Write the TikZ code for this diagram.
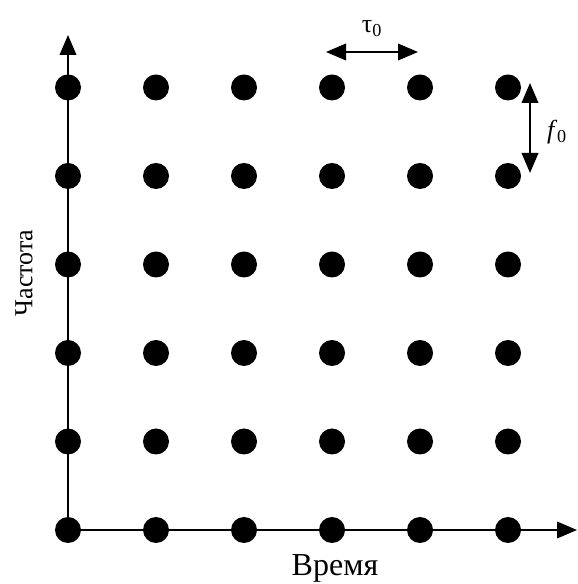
\documentclass[tikz,border=0pt]{standalone}
\usepackage{fontspec}
\setmainfont{Liberation Serif}
\usetikzlibrary{arrows.meta}
\begin{document}
\begin{tikzpicture}[x=0.75pt, y=0.75pt, line width=1.2pt,
  dot/.style={circle, fill=black, inner sep=0pt, minimum size=19.5pt},
  tip/.style={-{Triangle[length=15pt, width=12.5pt]}},
  twotip/.style={{Triangle[length=15pt, width=12.5pt]}-{Triangle[length=15pt, width=12.5pt]}},
  lbl/.style={font=\fontsize{19.5}{22}\selectfont}]
  \useasboundingbox (0,0) rectangle (577,584);
  % концы осей
  \coordinate (t-end) at (577,54);
  \coordinate (f-end) at (68,549);
  % оси
  \draw[tip] (68,54) coordinate (o) -- (t-end);
  \draw[tip] (o) -- (f-end);
  % узлы решётки
  \foreach \i in {0,...,5}
    \foreach \j in {0,...,5}
      \node[dot] (d-\i-\j) at ({68+88*\i},{54+88.5*\j}) {};
  % шаг по времени
  \coordinate (tau-a) at (326,532);
  \coordinate (tau-b) at (418,532);
  \draw[twotip] (tau-a) -- (tau-b);
  \node[lbl] (tau) at (372,555) {τ\textsubscript{0}};
  % шаг по частоте
  \coordinate (f-a) at (530,501);
  \coordinate (f-b) at (530,411);
  \draw[twotip] (f-a) -- (f-b);
  \node[lbl] (f0) at (557,452) {\textit{f}\textsubscript{0}};
  % подписи осей
  \node[lbl, font=\fontsize{24}{26}\selectfont] (time) at (335,16) {Время};
  \node[lbl, rotate=90] (freq) at (24,311) {Частота};
\end{tikzpicture}
\end{document}
